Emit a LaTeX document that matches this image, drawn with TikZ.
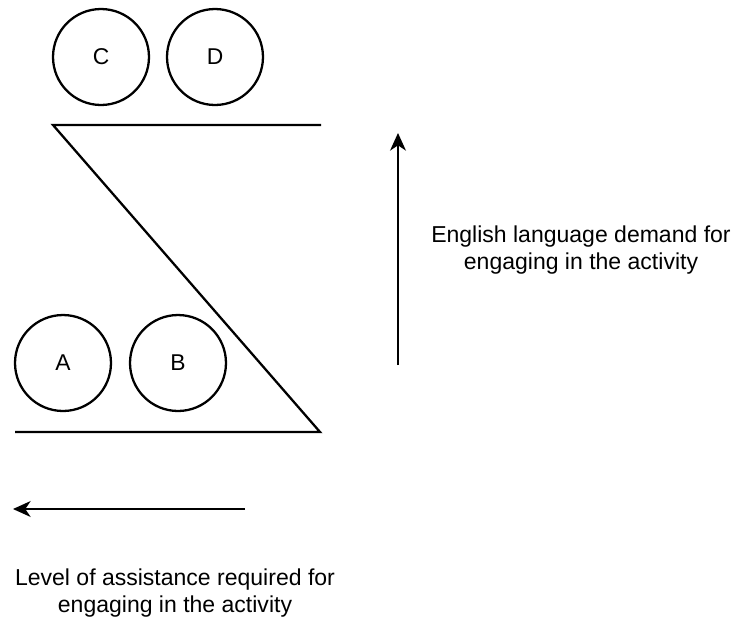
\documentclass[tikz,border=0pt]{standalone}
\usepackage{fontspec}
\setmainfont{Liberation Sans}
\usetikzlibrary{arrows.meta}

\begin{document}
\begin{tikzpicture}[x=0.02cm, y=-0.02cm, line width=1.3pt,
	group/.style={draw, circle, minimum size=1.92cm, inner sep=0pt, font=\fontsize{13}{15}\selectfont},
	axis/.style={-{Stealth[length=10pt, width=9pt, inset=3pt]}},
	caption/.style={align=center, font=\fontsize{13.1}{15.3}\selectfont}]
	\useasboundingbox (0,0) rectangle (734,620);

    \node[group] (C) at (101,57) {C};
    \node[group] (D) at (215,57) {D};
    \node[group] (A) at (63,363) {A};
    \node[group] (B) at (178,363) {B};

    \coordinate (topR) at (321,125);
    \coordinate (topL) at (53,125);
    \coordinate (botR) at (320,432);
    \coordinate (botL) at (15,432);
    \draw (topR) -- (topL) -- (botR) -- (botL);

    \coordinate (upS) at (398,365);
    \coordinate (upE) at (398,133);
    \draw[axis] (upS) -- (upE);
    \node[caption] (demand) at (581,250) {English language demand for\\engaging in the activity};

    \coordinate (leftS) at (245,509);
    \coordinate (leftE) at (13,509);
    \draw[axis] (leftS) -- (leftE);
    \node[caption] (assist) at (175,593) {Level of assistance required for\\engaging in the activity};
\end{tikzpicture}
\end{document}
